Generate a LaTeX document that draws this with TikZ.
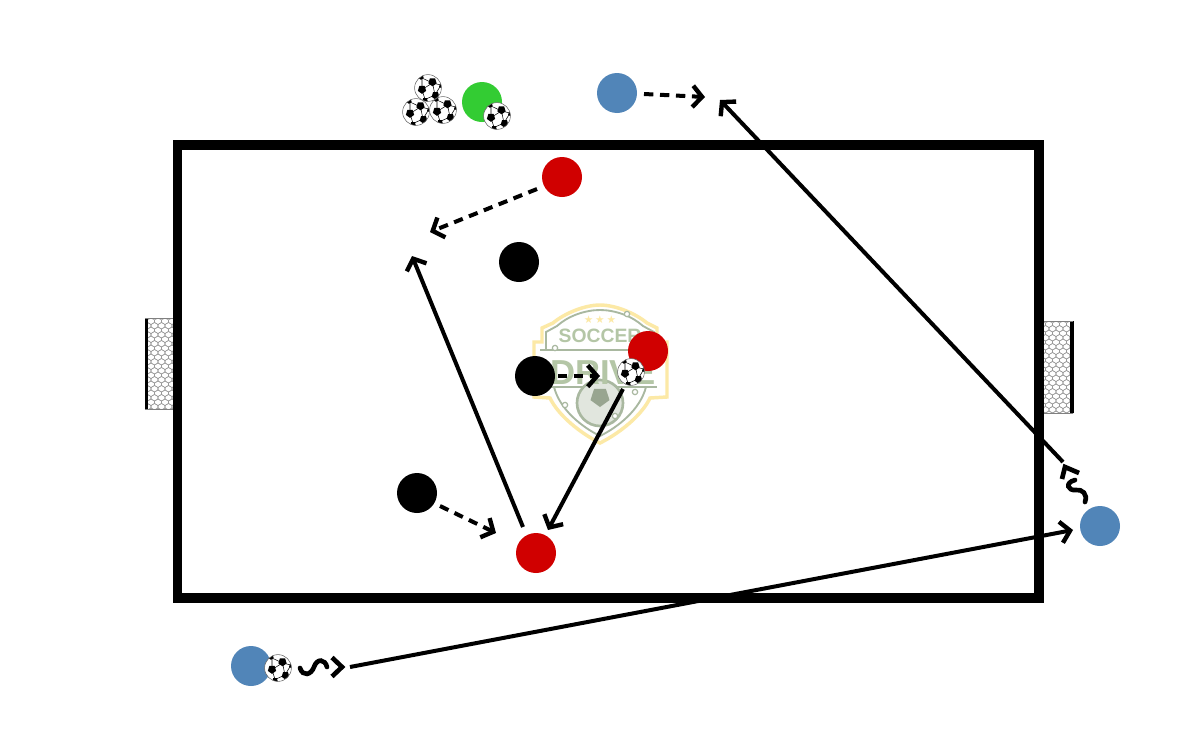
\documentclass[tikz,border=0pt]{standalone}
\usepackage{fontspec}
\setmainfont{Liberation Sans}
\newfontfamily\symfont{DejaVu Sans}
\usetikzlibrary{arrows.meta}
\definecolor{blueP}{HTML}{5185B8}
\definecolor{redP}{HTML}{D00000}
\definecolor{greenP}{HTML}{33CC33}
\definecolor{logoG}{HTML}{B4C6A6}
\definecolor{logoL}{HTML}{A9B8A0}
\definecolor{logoY}{HTML}{FCE9A6}
\tikzset{
 player/.style={circle,minimum size=30pt,inner sep=0pt,outer sep=0pt,fill=#1},
 field/.style={draw=black,line width=7pt,miter limit=10},
 tipstyle/.style={-{Straight Barb[length=7pt,width=16pt,line width=3.3pt]}},
 pass/.style={line width=3pt,draw=black,tipstyle},
 run/.style={line width=3pt,draw=black,tipstyle,dash pattern=on 7pt off 5pt},
 squig/.style={line width=3.5pt,draw=black,line cap=round},
 chev/.style={line width=3.5pt,draw=black,miter limit=10},
 netline/.style={draw=black!40,line width=.4pt},
 logoline/.style={draw=logoL,line width=1.4pt},
 logodot/.style={draw=logoL,fill=white,line width=.9pt,circle,inner sep=0pt,minimum size=4pt},
 pics/ball/.style={code={
   \fill[white] (0,0) circle (13.4);
   \begin{scope}
   \clip (0,0) circle (13.4);
   \draw[black,line width=.4pt] (4.5,-5)--(-6,1.5) (4.5,-5)--(7,7) (-6,1.5)--(-3,11.5) (7,7)--(-3,11.5) (-6,1.5)--(-6,-10) (4.5,-5)--(-6,-10) (4.5,-5)--(13,-3) (7,7)--(13,-3);
   \foreach \a/\b/\r in {4.5/-6/4.4,-6/1.5/4.4,7.5/7.5/4.1,-7/-11/2.8,-3/12.5/3,13/-2/2}{
     \fill[black] (\a,\b) +(90:\r) -- +(18:\r) -- +(-54:\r) -- +(-126:\r) -- +(162:\r) -- cycle;
   }
   \end{scope}
   \draw[black!60,line width=.4pt] (0,0) circle (13.4);
 }},
 pics/net/.style={code={
   \fill[white] (0,0) rectangle (30,#1);
   \begin{scope}
   \clip (0,0) rectangle (30,#1);
   \foreach \i in {0,...,4}{\foreach \j in {0,...,11}{
     \draw[netline] (\i*7-1,\j*9) -- ++(3.5,2) -- ++(0,2.5) -- ++(-3.5,2) -- ++(-3.5,-2) -- ++(0,-2.5) -- cycle;
     \draw[netline] (\i*7+2.5,\j*9+4.5) -- ++(3.5,2) -- ++(0,2.5) -- ++(-3.5,2) -- ++(-3.5,-2) -- ++(0,-2.5) -- cycle;
   }}
   \end{scope}
 }}
}
\begin{document}
\begin{tikzpicture}[x=0.75pt,y=-0.75pt]
\useasboundingbox (0,0) rectangle (1200,750);
\fill[white] (0,0) rectangle (1200,750);

% logo
\draw[logoY,line width=2.6pt,fill=white,miter limit=10] (600,305) .. controls (585,305) and (565,313) .. (553,323) -- (542,328) -- (542,342) -- (534,342) -- (534,397) -- (550,398) .. controls (558,415) and (580,433) .. (600,443) .. controls (620,433) and (642,415) .. (650,398) -- (667,397) -- (667,342) -- (657,342) -- (657,328) -- (647,323) .. controls (635,313) and (615,305) .. (600,305) -- cycle;
\draw[logoline] (600,310) .. controls (585,310) and (568,316) .. (557,326) -- (546,332) -- (546,350) (654,350) -- (654,332) -- (643,326) .. controls (632,316) and (615,310) .. (600,310);
\draw[logoline] (554,387) .. controls (560,410) and (582,427) .. (600,436) .. controls (618,427) and (640,410) .. (646,387);
\draw[logoline] (540,350) -- (657,350) (540,387) -- (657,387);
\draw[draw=logoL,fill=logoL!35,line width=2pt] (600,403) circle (23);
\fill[logoL!90!black] (600,397) +(90:10) -- +(18:10) -- +(-54:10) -- +(-126:10) -- +(162:10) -- cycle;
\node[logodot] (ld1) at (627,314) {};
\node[logodot] (ld2) at (555,348) {};
\node[logodot] (ld3) at (635,392) {};
\node[logodot] (ld4) at (565,405) {};
\node[logodot] (ld5) at (615,416) {};
\node[text=logoY,inner sep=0pt,font=\symfont\fontsize{8}{9}\selectfont] (lstars) at (600,319.5) {★\,★\,★};
\node[text=logoG,inner sep=0pt,font=\bfseries\fontsize{14.5}{15}\selectfont] (lsoccer) at (600,336) {SOCCER};
\node[text=logoG,inner sep=0pt,font=\bfseries\fontsize{26}{28}\selectfont] (ldrive) at (603,373) {DRIVE};

% goals
\pic at (145,318) {net=91};
\fill[black] (144.5,318) rectangle (148,409);
\draw[black!50,line width=.6pt] (145,318) -- (175,318) (145,409) -- (175,409);
\pic at (1043,321) {net=92};
\fill[black] (1070,321) rectangle (1073.5,413);
\draw[black!50,line width=.6pt] (1043,321) -- (1073,321) (1043,413) -- (1073,413);

% field
\draw[field] (177.5,145) rectangle (1039,598);

% players
\node[player=greenP] (g1) at (482,102) {};
\node[player=blueP] (b1) at (617,93) {};
\node[player=redP] (r1) at (562,177) {};
\node[player=black] (k1) at (519,262) {};
\node[player=black] (k2) at (535,376) {};
\node[player=redP] (r2) at (648,351) {};
\node[player=black] (k3) at (417,493) {};
\node[player=redP] (r3) at (536,553) {};
\node[player=blueP] (b2) at (251,666) {};
\node[player=blueP] (b3) at (1100,526) {};

% balls
\pic at (428,88) {ball};
\pic at (416,112) {ball};
\pic at (443,110) {ball};
\pic at (497,116) {ball};
\pic at (631,372) {ball};
\pic at (278,668) {ball};

% connector ends
\coordinate (c1a) at (644,94);   \coordinate (c1b) at (705,97);
\coordinate (c2a) at (1063,462); \coordinate (c2b) at (720,100);
\coordinate (c4a) at (537,189);  \coordinate (c4b) at (430,232);
\coordinate (c5a) at (523,527);  \coordinate (c5b) at (412,256);
\coordinate (c6a) at (558,376);  \coordinate (c6b) at (600,376);
\coordinate (c7a) at (623,389);  \coordinate (c7b) at (548,530);
\coordinate (c8a) at (440,506);  \coordinate (c8b) at (496,533);
\coordinate (c9a) at (350,667);  \coordinate (c9b) at (1073,530);

\draw[run] (c1a) -- (c1b);
\draw[pass] (c2a) -- (c2b);
\draw[run] (c4a) -- (c4b);
\draw[pass] (c5a) -- (c5b);
\draw[run] (c6a) -- (c6b);
\draw[pass] (c7a) -- (c7b);
\draw[run] (c8a) -- (c8b);
\draw[pass] (c9a) -- (c9b);

% dribbles
\draw[squig] (300,668) .. controls (303,677) and (311,675) .. (314,667) .. controls (317,658) and (325,659) .. (327,667);
\draw[chev] (332,657.5) -- (342,667) -- (332,676.5);
\draw[squig] (1085,502) .. controls (1088,494) and (1082,489) .. (1076,490) .. controls (1068,491) and (1064,483) .. (1075,480);
\draw[chev] (1079,473) -- (1065,467) -- (1062,479);
\end{tikzpicture}
\end{document}
